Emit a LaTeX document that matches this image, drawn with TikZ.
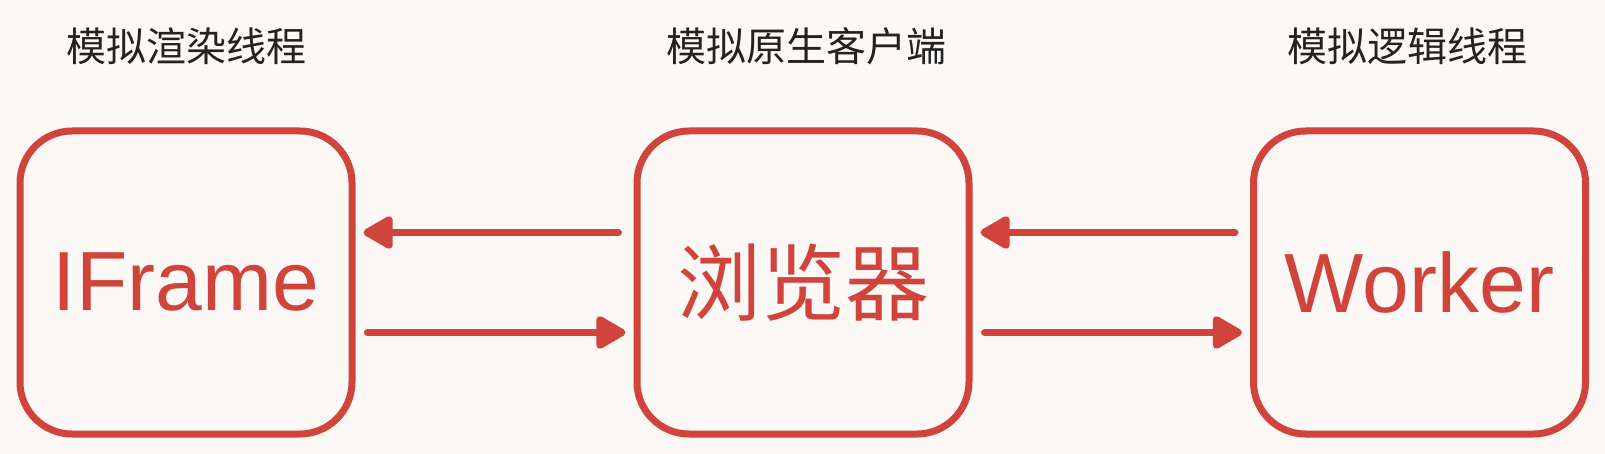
\documentclass[tikz,border=0pt]{standalone}
\usepackage{fontspec}
\setmainfont{Liberation Sans}
\newfontfamily\cjk{Noto Sans CJK SC}
\usepackage{xcolor}
\usetikzlibrary{arrows.meta}

\definecolor{boxred}{HTML}{D1443C}
\definecolor{paper}{HTML}{FCF8F5}
\definecolor{ink}{HTML}{222222}

\tikzset{
  roundbox/.style={draw=boxred, line width=7pt, rounded corners=52pt,
    minimum width=332pt, minimum height=303pt, text=boxred,
    font=\fontsize{84}{90}\selectfont, inner sep=0pt},
  caption/.style={text=ink, font=\cjk\fontsize{40}{44}\selectfont, inner sep=0pt},
  flow/.style={draw=boxred, line width=7pt, line cap=round,
    -{Triangle[length=33pt,width=36pt,round]}}
}

\begin{document}
\begin{tikzpicture}[x=1pt,y=-1pt]
            \useasboundingbox[fill=paper] (0,0) rectangle (1605,454);

            \node [roundbox] (F) at (186,282.5) {IFrame};
            \node [roundbox] (B) at (803,282.5) {\cjk 浏览器};
            \node [roundbox] (W) at (1419.5,282.5) {Worker};

            \node [caption] (LF) at (186,46) {模拟渲染线程};
            \node [caption] (LB) at (806,46) {模拟原生客户端};
            \node [caption] (LW) at (1407,46) {模拟逻辑线程};

            \draw[flow, shorten <=15pt, shorten >=8pt] ([yshift=50pt]B.west) -- ([yshift=50pt]F.east);
            \draw[flow, shorten <=12pt, shorten >=8pt] ([yshift=-50pt]F.east) -- ([yshift=-50pt]B.west);

            \draw[flow, shorten <=15pt, shorten >=8pt] ([yshift=50pt]W.west) -- ([yshift=50pt]B.east);
            \draw[flow, shorten <=12pt, shorten >=8pt] ([yshift=-50pt]B.east) -- ([yshift=-50pt]W.west);

        \end{tikzpicture}
\end{document}
